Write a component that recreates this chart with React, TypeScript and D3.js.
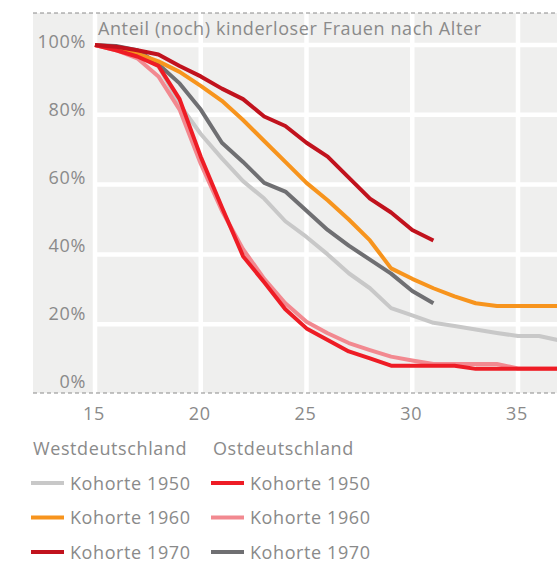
import React from "react";
import * as d3 from "d3";

const ages = [15, 16, 17, 18, 19, 20, 21, 22, 23, 24, 25, 26, 27, 28, 29, 30, 31, 32, 33, 34, 35, 36, 37];

const west1950 = [100, 99, 97.5, 94, 83, 74.5, 67.5, 61, 56, 49.5, 45, 40, 34.6, 30.3, 24.6, 22.5, 20.4, 19.5, 18.5, 17.5, 16.6, 16.6, 15.3];
const west1960 = [100, 99, 97.5, 95.3, 92.3, 88.3, 84, 78.5, 72.5, 66.5, 60.5, 55.5, 50, 44, 36, 33, 30.3, 28, 26, 25.2, 25.2, 25.2, 25.2];
const west1970 = [100, 99.5, 98.5, 97.3, 94, 91, 87.5, 84.5, 79.5, 76.8, 72, 68, 62, 56, 52, 47, 44];
const east1950 = [100, 98.5, 96.7, 94, 84.5, 68, 53.5, 39.5, 32, 24.3, 18.8, 15.5, 12.2, 10.2, 8.1, 8.1, 8.1, 8.1, 7.2, 7.2, 7.2, 7.2, 7.2];
const east1960 = [100, 98.5, 96.2, 91, 81.5, 66, 52.5, 41.5, 33, 26, 20.7, 17.4, 14.6, 12.6, 10.7, 9.6, 8.6, 8.6, 8.6, 8.6, 7.3, 7.3, 7.3];
const east1970 = [100, 99.7, 98.5, 94.5, 89, 81.5, 72, 66.5, 60.5, 58, 52.5, 47, 42.5, 38.5, 34.5, 29.5, 26];

const xTicks = [15, 20, 25, 30, 35];
const yTicks = [0, 20, 40, 60, 80, 100];
const gridY = [20, 40, 60, 80, 100];

const title = "Anteil (noch) kinderloser Frauen nach Alter";
const groupLabels = ["Westdeutschland", "Ostdeutschland"];

const series = [
  { key: "w50", label: "Kohorte 1950", group: 0, row: 0, values: west1950, color: "#c8c8c8" },
  { key: "e70", label: "Kohorte 1970", group: 1, row: 2, values: east1970, color: "#6f6f72" },
  { key: "w60", label: "Kohorte 1960", group: 0, row: 1, values: west1960, color: "#f7941d" },
  { key: "e60", label: "Kohorte 1960", group: 1, row: 1, values: east1960, color: "#f28990" },
  { key: "e50", label: "Kohorte 1950", group: 1, row: 0, values: east1950, color: "#ee1c25" },
  { key: "w70", label: "Kohorte 1970", group: 0, row: 2, values: west1970, color: "#c1121d" },
];

const W = 557;
const H = 565;
const FONT = "'Open Sans', sans-serif";
const TEXT = "#8a8a8a";
const LS = 0.6;

export default function App() {
  const x = d3.scaleLinear().domain([15, 35]).range([95, 518]);
  const y = d3.scaleLinear().domain([0, 100]).range([394, 45]);
  const yLabel = d3.scaleLinear().domain([0, 100]).range([382, 42]);
  const line = d3
    .line<number>()
    .x((_, i) => x(ages[i]))
    .y((v) => y(v));

  const plotLeft = 33;
  const plotTop = 13;
  const plotBottom = 393;

  const legendCol = d3.scaleOrdinal<number, number>().domain([0, 1]).range([31, 211]);
  const legendRow = d3.scaleLinear().domain([0, 2]).range([483, 552]);

  return (
    <svg width={W} height={H} style={{ position: "absolute", left: 0, top: 0, display: "block" }} fontFamily={FONT}>
      <defs>
        <clipPath id="plotclip">
          <rect x={plotLeft} y={plotTop} width={W - plotLeft} height={plotBottom - plotTop} />
        </clipPath>
      </defs>
      <rect x={plotLeft} y={plotTop} width={W - plotLeft} height={plotBottom - plotTop} fill="#efefee" />
      {xTicks.map((t) => (
        <line key={"vx" + t} x1={x(t)} x2={x(t)} y1={plotTop} y2={plotBottom} stroke="#fff" strokeWidth={4.5} />
      ))}
      {gridY.map((t) => (
        <line key={"hy" + t} x1={x(15) - 2} x2={W} y1={y(t)} y2={y(t)} stroke="#fff" strokeWidth={4.5} />
      ))}
      <line x1={plotLeft} x2={W} y1={plotTop} y2={plotTop} stroke="#8a8a8a" strokeWidth={1} strokeDasharray="4,3" />
      <line x1={plotLeft} x2={W} y1={plotBottom} y2={plotBottom} stroke="#8a8a8a" strokeWidth={1} strokeDasharray="4,3" />
      <text x={98} y={35} fill={TEXT} fontSize={18} letterSpacing={LS}>{title}</text>
      {yTicks.map((t) => (
        <text key={"yl" + t} x={86} y={yLabel(t)} dy="0.35em" textAnchor="end" fill={TEXT} fontSize={18} letterSpacing={0.7}>
          {t + "%"}
        </text>
      ))}
      {xTicks.map((t) => (
        <text key={"xl" + t} x={x(t) - 1} y={420} textAnchor="middle" fill={TEXT} fontSize={18} letterSpacing={LS}>
          {t}
        </text>
      ))}
      <g clipPath="url(#plotclip)">
        {series.map((s) => (
          <path key={s.key} d={line(s.values) || ""} fill="none" stroke={s.color} strokeWidth={4} strokeLinejoin="round" />
        ))}
      </g>
      {groupLabels.map((g, i) => (
        <text key={g} x={legendCol(i) + 2} y={455} fill={TEXT} fontSize={18} letterSpacing={LS}>{g}</text>
      ))}
      {series.map((s) => (
        <g key={"lg" + s.key}>
          <line x1={legendCol(s.group)} x2={legendCol(s.group) + 33} y1={legendRow(s.row)} y2={legendRow(s.row)} stroke={s.color} strokeWidth={4} />
          <text x={legendCol(s.group) + 39} y={legendRow(s.row)} dy="0.37em" fill={TEXT} fontSize={18} letterSpacing={LS}>{s.label}</text>
        </g>
      ))}
    </svg>
  );
}
